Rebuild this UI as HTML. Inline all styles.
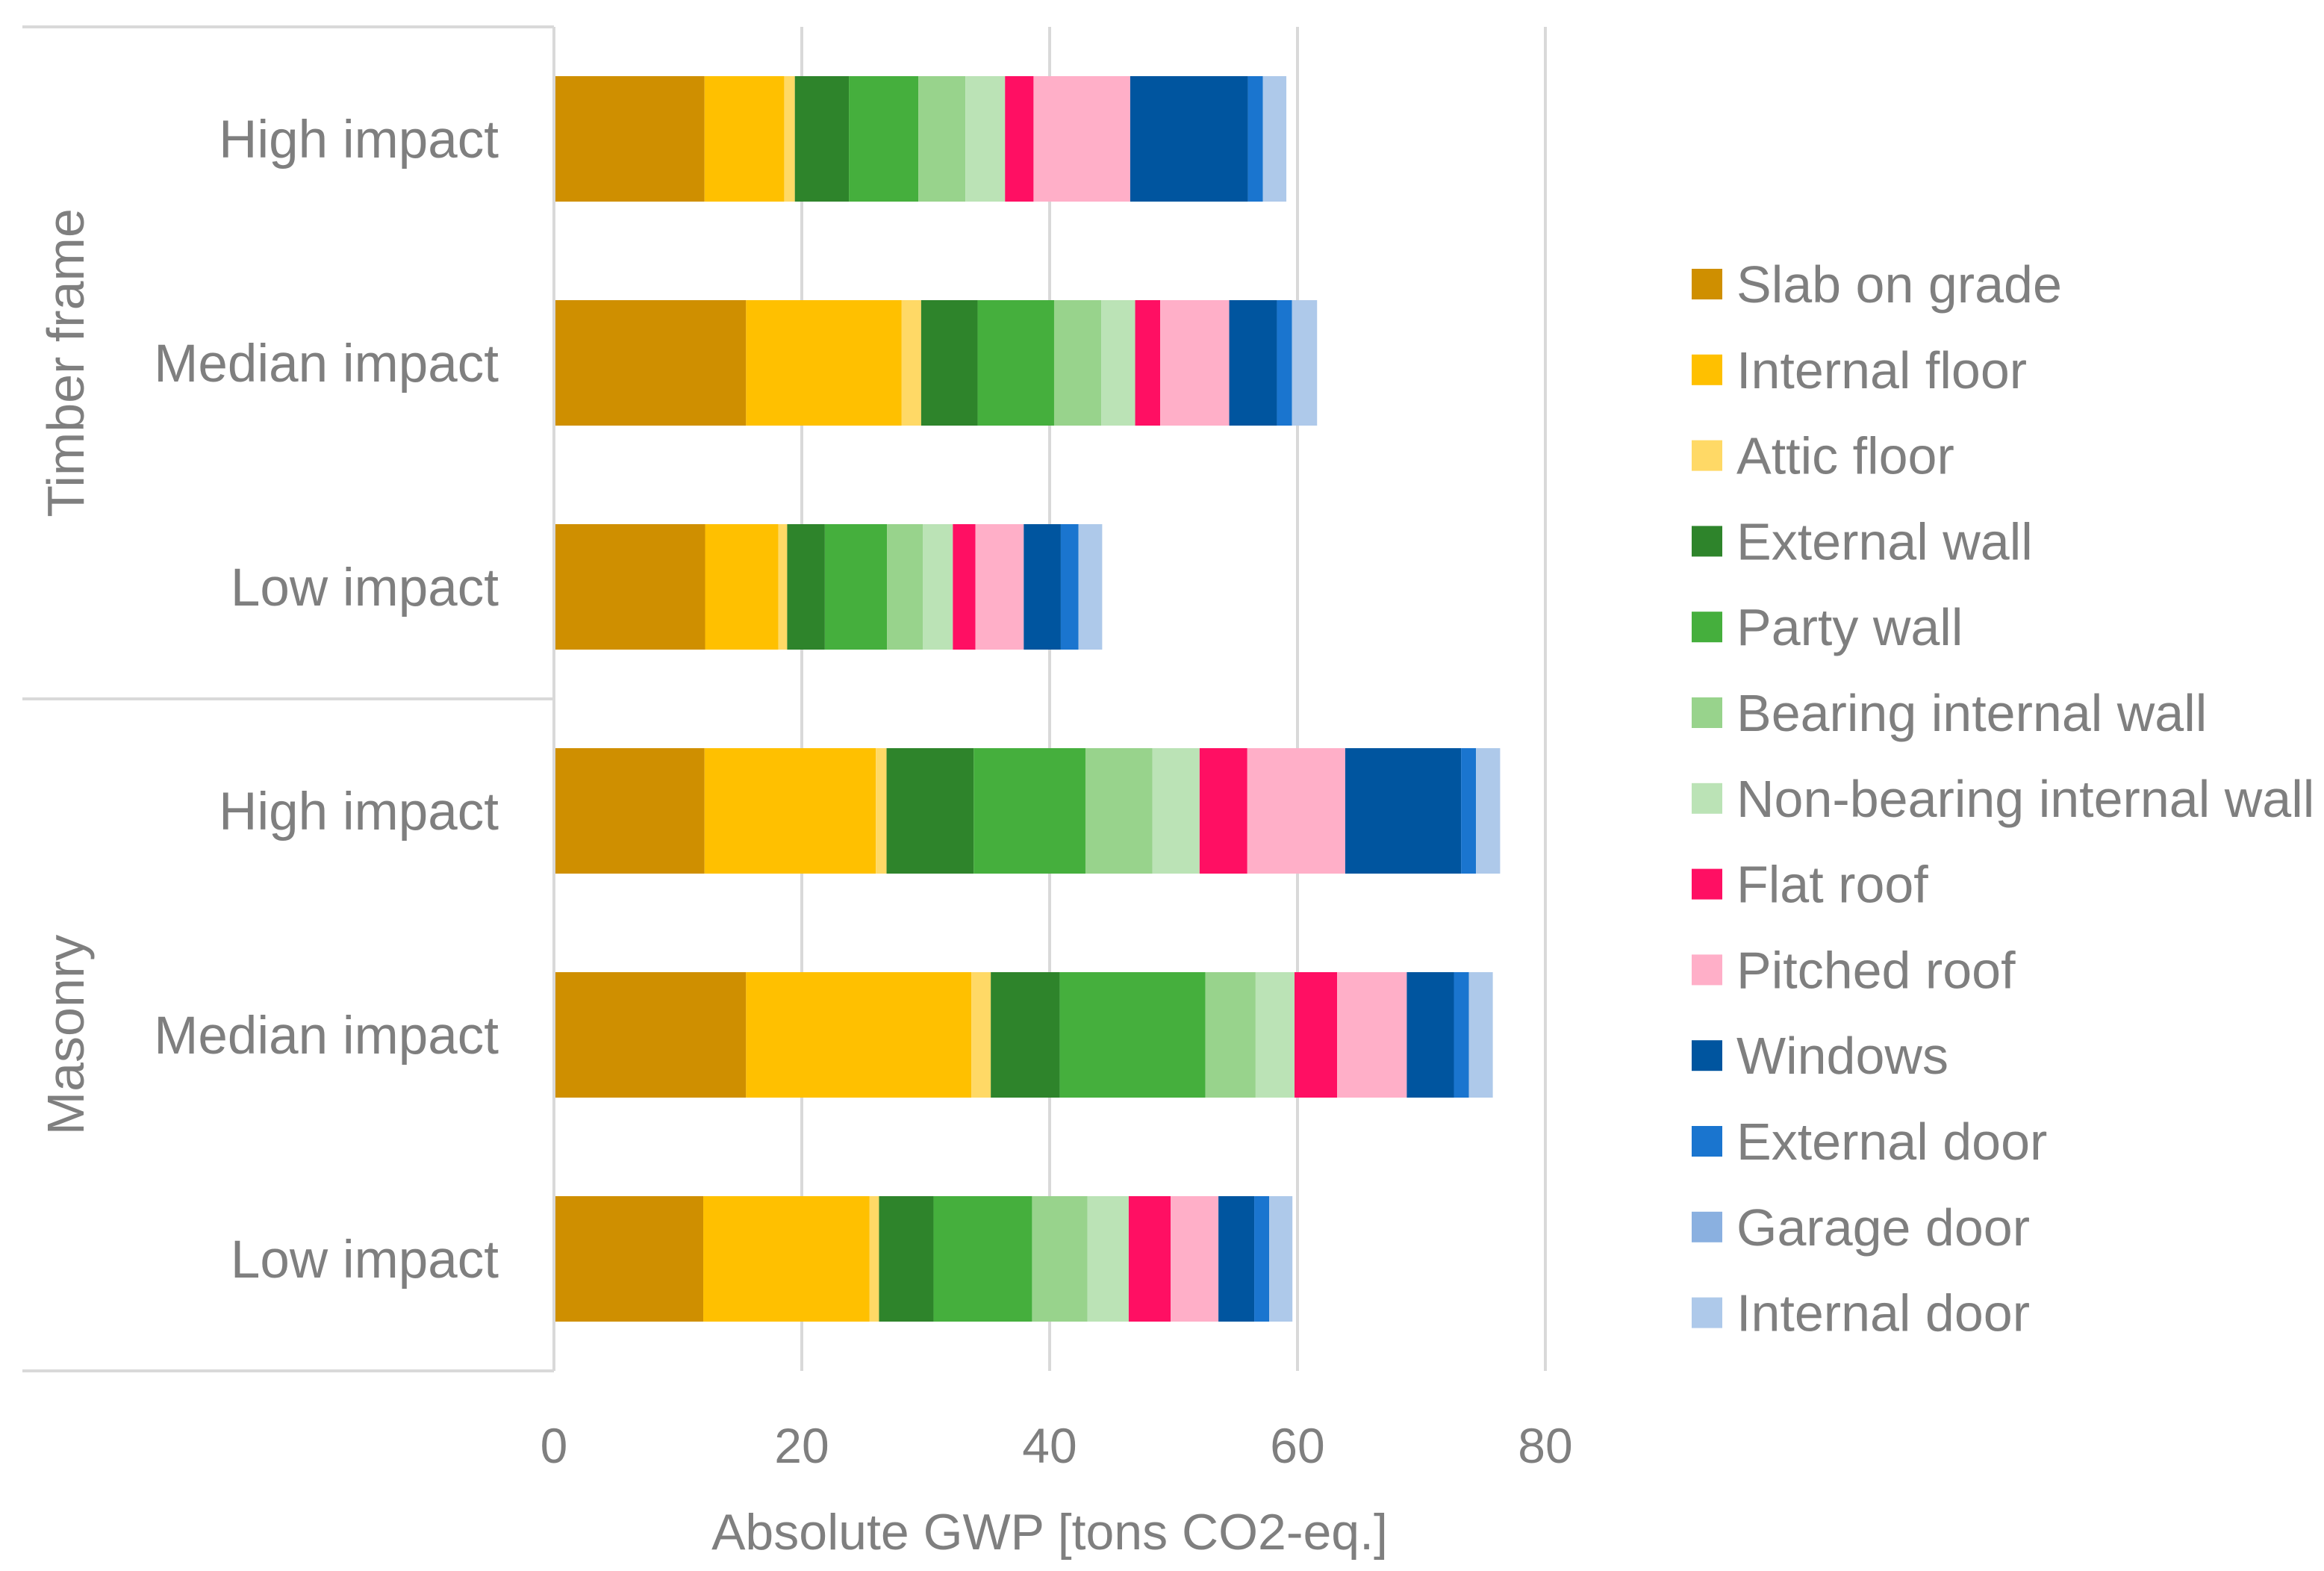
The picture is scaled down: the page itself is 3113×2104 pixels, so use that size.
<!DOCTYPE html>
<html><head><meta charset="utf-8"><style>
html,body{margin:0;padding:0;background:#fff;}
svg{display:block;font-family:"Liberation Sans",sans-serif;}
</style></head><body>
<svg id="chart" width="3113" height="2104" viewBox="0 0 3113 2104" xmlns="http://www.w3.org/2000/svg">
<g id="grid"></g>
<g id="frame">
<line x1="30" y1="36" x2="742" y2="36" stroke="#d9d9d9" stroke-width="4"/>
<line x1="30" y1="936" x2="742" y2="936" stroke="#d9d9d9" stroke-width="4"/>
<line x1="30" y1="1836" x2="742" y2="1836" stroke="#d9d9d9" stroke-width="4"/>
<text transform="translate(112,486) rotate(-90)" text-anchor="middle" font-size="70" fill="#7f7f7f">Timber frame</text>
<text transform="translate(112,1386) rotate(-90)" text-anchor="middle" font-size="70" fill="#7f7f7f">Masonry</text>
</g>
<g id="bars"></g>
<g id="ylabels"></g>
<line x1="742" y1="36" x2="742" y2="1836" stroke="#d9d9d9" stroke-width="4"/>
<g id="xticks"></g>
<text x="1406" y="2075" text-anchor="middle" font-size="68" fill="#7f7f7f">Absolute GWP [tons CO2-eq.]</text>
<g id="legend"></g>
</svg>
<script>
const categories = ["High impact","Median impact","Low impact","High impact","Median impact","Low impact"];
const seriesNames = ["Slab on grade","Internal floor","Attic floor","External wall","Party wall","Bearing internal wall","Non-bearing internal wall","Flat roof","Pitched roof","Windows","External door","Garage door","Internal door"];
const seriesColors = ["#CF8F00","#FFC000","#FFD966","#2E842B","#45AF3D","#98D38C","#BBE3B6","#FF0F63","#FFAFC8","#00559F","#1A75CF","#8AB0E0","#AEC9EA"];
const slab = [12.15, 15.5, 12.2, 12.15, 15.5, 12.05];
const internalFloor = [6.43, 12.56, 5.9, 13.82, 18.18, 13.42];
const atticFloor = [0.86, 1.57, 0.72, 0.87, 1.57, 0.76];
const externalWall = [4.36, 4.56, 3.04, 7.03, 5.57, 4.4];
const partyWall = [5.6, 6.17, 5.01, 9.02, 11.75, 7.95];
const bearingWall = [3.8, 3.8, 2.89, 5.41, 4.05, 4.46];
const nonBearingWall = [3.2, 2.74, 2.43, 3.8, 3.14, 3.34];
const flatRoof = [2.3, 2.02, 1.82, 3.85, 3.44, 3.39];
const pitchedRoof = [7.8, 5.57, 3.9, 7.9, 5.62, 3.85];
const windows = [9.5, 3.85, 2.99, 9.35, 3.8, 2.89];
const externalDoor = [1.2, 1.21, 1.42, 1.2, 1.21, 1.21];
const garageDoor = [0, 0, 0, 0, 0, 0];
const internalDoor = [1.9, 2.03, 1.92, 1.95, 1.93, 1.87];
const xTicks = [0, 20, 40, 60, 80];

const series = [slab, internalFloor, atticFloor, externalWall, partyWall, bearingWall, nonBearingWall, flatRoof, pitchedRoof, windows, externalDoor, garageDoor, internalDoor];
const NS = "http://www.w3.org/2000/svg";
const x0 = 742, pxPerUnit = 16.6, plotTop = 36, band = 300, barH = 168;
function xScale(v){ return x0 + v * pxPerUnit; }
function yCenter(i){ return plotTop + band/2 + band*i; }
function mk(tag, attrs, parent){ const e=document.createElementNS(NS,tag); for(const k in attrs) e.setAttribute(k, attrs[k]); parent.appendChild(e); return e; }

const grid = document.getElementById('grid');
const xt = document.getElementById('xticks');
xTicks.forEach(t => {
  if (t > 0) {
    const l = mk('line', {x1:xScale(t), y1:plotTop, x2:xScale(t), y2:1836, stroke:'#d9d9d9', 'stroke-width':4}, grid);
    
    
  }
  const tx = mk('text', {x:xScale(t), y:1959, 'text-anchor':'middle', 'font-size':66, fill:'#7f7f7f'}, xt);
  tx.textContent = t;
  
  
});

const bars = document.getElementById('bars');
const yl = document.getElementById('ylabels');
categories.forEach((c, i) => {
  let cum = 0;
  const yc = yCenter(i);
  series.forEach((s, k) => {
    const v = s[i];
    if (v > 0) {
      const r = mk('rect', {x:xScale(cum), y:yc - barH/2, width:v*pxPerUnit, height:barH, fill:seriesColors[k]}, bars);
      
      
    }
    cum += v;
  });
  const t = mk('text', {x:668, y:yc + 25, 'text-anchor':'end', 'font-size':71, fill:'#7f7f7f'}, yl);
  t.textContent = c;
  
  
});

const lg = document.getElementById('legend');
seriesNames.forEach((n, k) => {
  const y = 380 + k * 114.8;
  const g = mk('g', {}, lg);
  
  
  mk('rect', {x:2266, y:y-20, width:41, height:41, fill:seriesColors[k]}, g);
  const t = mk('text', {x:2326, y:y+25, 'font-size':70, fill:'#7f7f7f'}, g);
  t.textContent = n;
});
</script>
</body></html>
